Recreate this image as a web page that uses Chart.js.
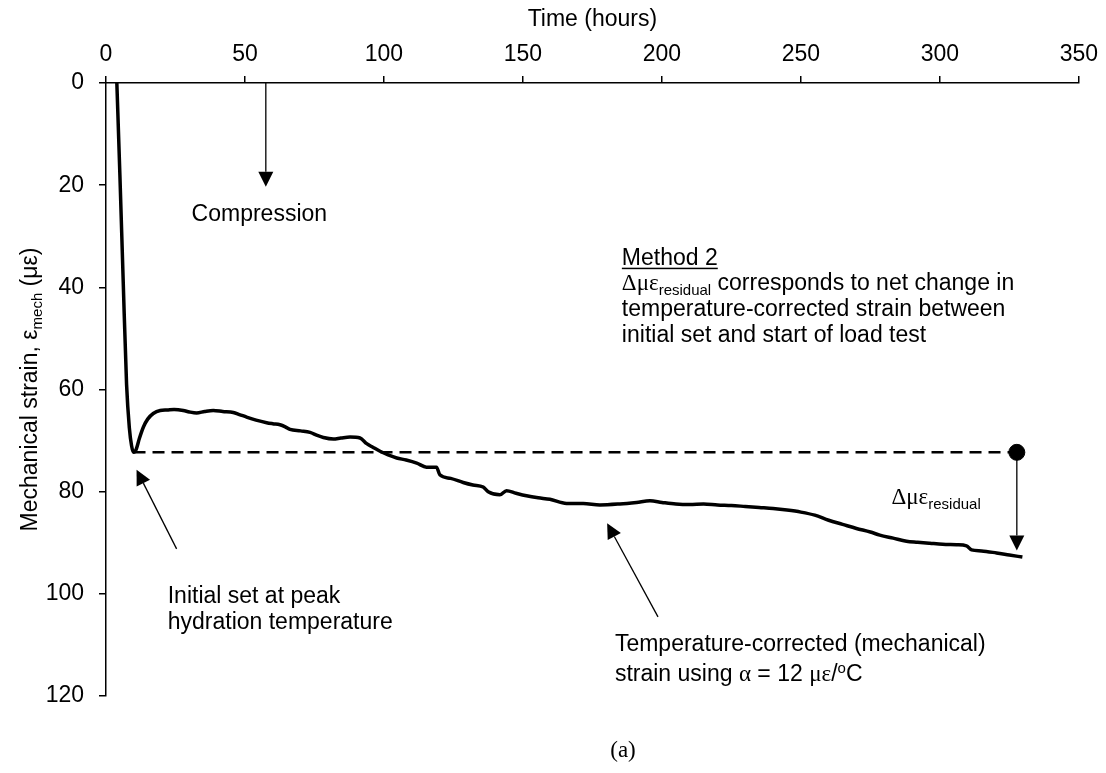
<!DOCTYPE html>
<html>
<head>
<meta charset="utf-8">
<script src="https://cdn.jsdelivr.net/npm/chart.js@4.4.1/dist/chart.umd.min.js"></script>
<style>
	body { margin: 0; background: #fff; }
	#wrap { width: 1106px; height: 773px; }
</style>
</head>
<body>
<div id="wrap"><canvas id="strain" width="1106" height="773"></canvas></div>
<script>
// mechanical strain vs time
const hours = [3.9, 5.0, 6.2, 7.4, 8.4, 9.2, 9.9, 10.8, 12.0, 13.5, 15.0, 17.0, 19.5, 22, 24.5, 27.8, 30, 32.6, 35.5, 38.6,
	42, 45.8, 48, 50.6, 54, 57.8, 60, 62.6, 64.5, 66.2, 70, 73.4, 76, 78.2, 81.8, 84.5, 87.8, 91.4, 93.8, 96,
	98.6, 101.5, 104.6, 108, 111.8, 115.3, 118.9, 120.1, 124, 128.5, 132, 135.7, 137.5, 141.7, 144.1, 147.5, 151.3, 155.5, 159.7, 165.7,
	171.7, 177.7, 184.9, 190.9, 195.7, 200, 205, 210, 215, 220, 225, 230, 235, 240, 245, 250, 255, 260, 265, 270,
	275, 278.4, 283.2, 288, 292, 296.4, 301, 306, 309.6, 311.4, 315, 320.4, 325, 329.7]
const strain = [0, 18, 39, 59, 67.5, 71, 72.3, 71.8, 69.6, 67.3, 65.8, 64.7, 64.1, 64.0, 63.9, 64.1, 64.4, 64.6, 64.3, 64.1,
	64.3, 64.5, 64.9, 65.4, 66.0, 66.5, 66.7, 66.9, 67.3, 67.8, 68.1, 68.4, 69.0, 69.4, 69.7, 69.5, 69.3, 69.5, 70.6, 71.3,
	72.1, 72.8, 73.4, 73.8, 74.4, 75.2, 75.2, 76.7, 77.4, 78.2, 78.7, 79.1, 80.0, 80.6, 79.8, 80.3, 80.8, 81.2, 81.5, 82.3,
	82.3, 82.6, 82.4, 82.1, 81.8, 82.1, 82.4, 82.5, 82.4, 82.6, 82.7, 82.9, 83.1, 83.3, 83.6, 84.0, 84.6, 85.6, 86.4, 87.2,
	87.9, 88.5, 89.1, 89.7, 89.9, 90.1, 90.3, 90.4, 90.6, 91.4, 91.6, 92.0, 92.4, 92.8]

// initial set (peak hydration) and start of load test
const setHour = 9.9
const setStrain = 72.3
const loadTestHour = 327.7
const loadTestStrain = 91.5

const xTicks = [0, 50, 100, 150, 200, 250, 300, 350]
const yTicks = [0, 20, 40, 60, 80, 100, 120]

const SANS = "\"Liberation Sans\", Arial, sans-serif"
const SERIF = "\"Liberation Serif\", \"Times New Roman\", serif"
const FS = 23
const BASE = 8 // baseline offset from a line's visual middle

function fontOf(run, size) {
	return size + "px " + (run.serif ? SERIF : SANS)
}

// draws a line of text made of runs (sub/superscripts, serif greek, underline)
function drawRuns(ctx, runs, x, y, align) {
	let total = 0
	runs.forEach(r => {
		let size = (r.sub || r.sup) ? Math.round(FS * 0.66) : FS
		ctx.font = fontOf(r, size)
		r.w = ctx.measureText(r.t).width
		r.size = size
		total += r.w
	})
	let cx = align === "center" ? x - total / 2 : x
	ctx.textAlign = "left"
	ctx.textBaseline = "alphabetic"
	runs.forEach(r => {
		ctx.font = fontOf(r, r.size)
		let dy = r.sub ? 5 : (r.sup ? -8 : 0)
		ctx.fillText(r.t, cx, y + dy)
		if (r.u) {
			ctx.fillRect(cx, y + 3, r.w, 1.5)
		}
		cx += r.w
	})
}

function arrow(ctx, x1, y1, x2, y2, head) {
	let ang = Math.atan2(y2 - y1, x2 - x1)
	ctx.beginPath()
	ctx.moveTo(x1, y1)
	ctx.lineTo(x2 - Math.cos(ang) * head, y2 - Math.sin(ang) * head)
	ctx.stroke()
	ctx.beginPath()
	ctx.moveTo(x2, y2)
	ctx.lineTo(x2 - head * Math.cos(ang) + head * 0.5 * Math.sin(ang), y2 - head * Math.sin(ang) - head * 0.5 * Math.cos(ang))
	ctx.lineTo(x2 - head * Math.cos(ang) - head * 0.5 * Math.sin(ang), y2 - head * Math.sin(ang) + head * 0.5 * Math.cos(ang))
	ctx.closePath()
	ctx.fill()
}

const notesPlugin = {
	id: "notes",
	afterDraw(chart) {
		const ctx = chart.ctx
		const xs = chart.scales.x
		const ys = chart.scales.y
		const px = v => xs.getPixelForValue(v)
		const py = v => ys.getPixelForValue(v) + BASE
		ctx.save()
		ctx.fillStyle = "#000"
		ctx.strokeStyle = "#000"
		ctx.lineWidth = 1.3

		// compression direction
		arrow(ctx, px(57.5), ys.getPixelForValue(0), px(57.5), ys.getPixelForValue(20.3), 15)
		drawRuns(ctx, [{ t: "Compression" }], px(30.8), py(25.4), "left")

		// initial set
		arrow(ctx, px(25.4), ys.getPixelForValue(91.2), px(11.0), ys.getPixelForValue(75.7), 15)
		drawRuns(ctx, [{ t: "Initial set at peak" }], px(22.2), py(100.2), "left")
		drawRuns(ctx, [{ t: "hydration temperature" }], px(22.2), py(105.4), "left")

		// corrected strain
		arrow(ctx, px(198.6), ys.getPixelForValue(104.5), px(180.3), ys.getPixelForValue(86.2), 15)
		drawRuns(ctx, [{ t: "Temperature-corrected (mechanical)" }], px(183.1), py(109.6), "left")
		drawRuns(ctx, [
			{ t: "strain using " },
			{ t: "\u03b1", serif: true },
			{ t: " = 12 " },
			{ t: "\u03bc\u03b5", serif: true },
			{ t: "/" },
			{ t: "o", sup: true },
			{ t: "C" }
		], px(183.1), py(115.5), "left")

		// method 2 note
		let mx = px(185.6)
		drawRuns(ctx, [{ t: "Method 2", u: true }], mx, py(34.0), "left")
		drawRuns(ctx, [
			{ t: "\u0394\u03bc\u03b5", serif: true },
			{ t: "residual", sub: true },
			{ t: " corresponds to net change in" }
		], mx, py(39.0), "left")
		drawRuns(ctx, [{ t: "temperature-corrected strain between" }], mx, py(44.0), "left")
		drawRuns(ctx, [{ t: "initial set and start of load test" }], mx, py(49.1), "left")

		// residual arrow
		arrow(ctx, px(loadTestHour), ys.getPixelForValue(setStrain), px(loadTestHour), ys.getPixelForValue(loadTestStrain), 15)
		drawRuns(ctx, [
			{ t: "\u0394\u03bc\u03b5", serif: true },
			{ t: "residual", sub: true }
		], px(282.6), py(80.9), "left")

		// y axis title
		ctx.save()
		ctx.translate(29, (chart.chartArea.top + chart.chartArea.bottom) / 2)
		ctx.rotate(-Math.PI / 2)
		drawRuns(ctx, [
			{ t: "Mechanical strain, \u03b5" },
			{ t: "mech", sub: true },
			{ t: " (\u03bc\u03b5)" }
		], 0, BASE, "center")
		ctx.restore()

		// panel label
		ctx.font = FS + "px " + SERIF
		ctx.textAlign = "center"
		ctx.textBaseline = "alphabetic"
		ctx.fillText("(a)", 623, 757)
		ctx.restore()
	}
}

const curve = hours.map((h, i) => ({ x: h, y: strain[i] }))

new Chart(document.getElementById("strain"), {
	type: "scatter",
	data: {
		datasets: [
			{
				data: curve,
				showLine: true,
				borderColor: "#000",
				borderWidth: 3.5,
				pointRadius: 0,
				cubicInterpolationMode: "monotone"
			},
			{
				data: [{ x: setHour, y: setStrain }, { x: loadTestHour, y: setStrain }],
				showLine: true,
				borderColor: "#000",
				borderWidth: 2.5,
				borderDash: [12, 7],
				pointRadius: 0
			},
			{
				data: [{ x: loadTestHour, y: setStrain }],
				pointRadius: 8,
				backgroundColor: "#000",
				borderColor: "#000"
			}
		]
	},
	options: {
		responsive: false,
		animation: false,
		devicePixelRatio: 1,
		layout: { padding: { left: 0, top: 0, right: 27, bottom: 77 } },
		plugins: { legend: { display: false }, tooltip: { enabled: false } },
		scales: {
			x: {
				type: "linear",
				position: "top",
				min: 0,
				max: 350,
				afterFit: s => { s.height = 83 },
				afterBuildTicks: s => { s.ticks = xTicks.map(v => ({ value: v })) },
				grid: { drawOnChartArea: false, drawTicks: true, tickLength: 7, color: "#000", lineWidth: 1.5 },
				border: { display: true, color: "#000", width: 1.5 },
				ticks: { color: "#000", padding: 8, maxRotation: 0, font: { family: SANS, size: FS } },
				title: { display: true, text: "Time (hours)", color: "#000", padding: { top: 6 }, font: { family: SANS, size: FS } }
			},
			y: {
				type: "linear",
				reverse: true,
				min: 0,
				max: 120,
				afterFit: s => { s.width = 106 },
				afterBuildTicks: s => { s.ticks = yTicks.map(v => ({ value: v })) },
				grid: { drawOnChartArea: false, drawTicks: true, tickLength: 7, color: "#000", lineWidth: 1.5 },
				border: { display: true, color: "#000", width: 1.5 },
				ticks: { color: "#000", padding: 15, font: { family: SANS, size: FS } }
			}
		}
	},
	plugins: [notesPlugin]
})
</script>
</body>
</html>
